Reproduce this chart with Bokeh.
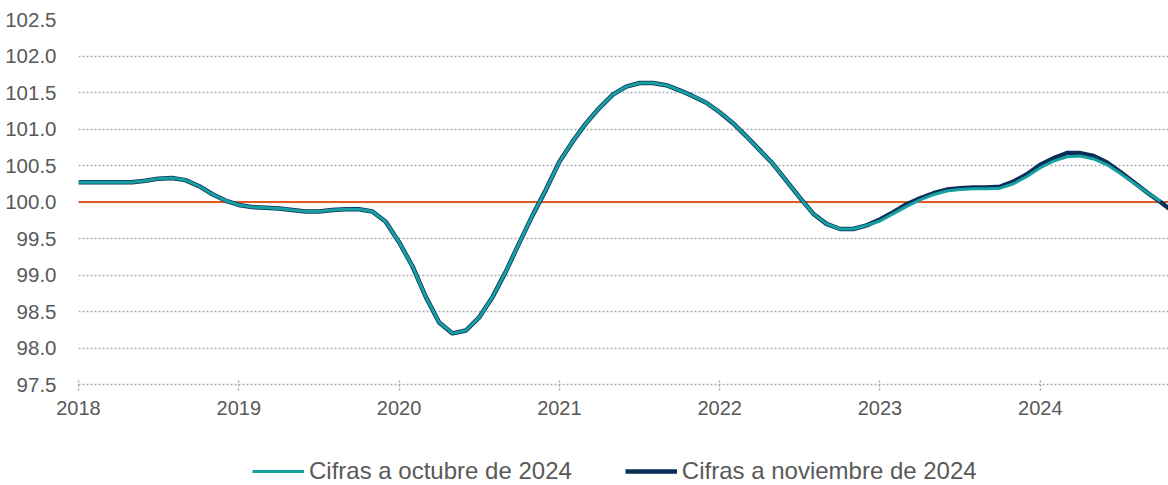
from bokeh.plotting import figure
from bokeh.layouts import column
from bokeh.models import Range1d, FixedTicker, Legend, LegendItem, Span, NumeralTickFormatter
from bokeh.embed import file_html
from bokeh.resources import INLINE

# ---- data (monthly, starting January 2018) ----
years = [2018, 2019, 2020, 2021, 2022, 2023, 2024]
y_ticks = [97.5, 98.0, 98.5, 99.0, 99.5, 100.0, 100.5, 101.0, 101.5, 102.0, 102.5]
base_level = 100.0

common_2018_2022 = [
    100.27, 100.27, 100.27, 100.27, 100.27, 100.29, 100.32, 100.33, 100.30, 100.22, 100.11, 100.02,
    99.96, 99.93, 99.92, 99.91, 99.89, 99.87, 99.87, 99.89, 99.90, 99.90, 99.87, 99.73,
    99.45, 99.12, 98.70, 98.35, 98.20, 98.24, 98.42, 98.70, 99.05, 99.44, 99.82, 100.17,
    100.55, 100.83, 101.08, 101.29, 101.47, 101.58, 101.63, 101.63, 101.60, 101.53, 101.45, 101.36,
    101.23, 101.08, 100.90, 100.71, 100.52, 100.29, 100.06, 99.84, 99.70, 99.63, 99.63, 99.68,
]
oct_2023_2024 = [
    99.74, 99.84, 99.94, 100.03, 100.10, 100.15, 100.17, 100.18, 100.18, 100.19, 100.25, 100.35,
    100.47, 100.56, 100.62, 100.63, 100.59, 100.51, 100.39, 100.26, 100.13, 100.01,
]
nov_2023_2024 = [
    99.76, 99.86, 99.97, 100.05, 100.12, 100.17, 100.19, 100.20, 100.20, 100.21, 100.28, 100.38,
    100.51, 100.60, 100.67, 100.67, 100.63, 100.54, 100.41, 100.27, 100.13, 100.00, 99.86,
]
serie_octubre = common_2018_2022 + oct_2023_2024
serie_noviembre = common_2018_2022 + nov_2023_2024
label_oct = "Cifras a octubre de 2024"
label_nov = "Cifras a noviembre de 2024"

x_oct = list(range(len(serie_octubre)))
x_nov = list(range(len(serie_noviembre)))

TEAL = "#17A0A2"
NAVY = "#0A2E57"
GRID = "#A3ABB3"
TXT = "#595959"
FONT = "Liberation Sans"

p = figure(width=1168, height=435, output_backend="svg", toolbar_location=None,
           x_range=Range1d(0, 81.6), y_range=Range1d(97.5, 102.5))
p.min_border_left = 78
p.min_border_right = 0
p.min_border_top = 19
p.min_border_bottom = 51
p.outline_line_color = None
p.background_fill_color = "white"

# grid
p.xgrid.grid_line_color = None
p.ygrid.ticker = FixedTicker(ticks=y_ticks)
p.ygrid.grid_line_color = GRID
p.ygrid.grid_line_dash = "2 2"
p.ygrid.grid_line_width = 1.5

# y axis
p.yaxis.ticker = FixedTicker(ticks=y_ticks)
p.yaxis.formatter = NumeralTickFormatter(format="0.0")
p.yaxis.axis_line_color = None
p.yaxis.major_tick_line_color = None
p.yaxis.minor_tick_line_color = None
p.yaxis.major_label_standoff = 16
p.yaxis.major_label_text_font = FONT
p.yaxis.major_label_text_font_size = "20.5px"
p.yaxis.major_label_text_color = TXT

# x axis
p.xaxis.ticker = FixedTicker(ticks=[12 * i for i in range(len(years))])
p.xaxis.major_label_overrides = {12 * i: str(y) for i, y in enumerate(years)}
p.xaxis.axis_line_color = GRID
p.xaxis.axis_line_dash = "2 2"
p.xaxis.axis_line_width = 1.5
p.xaxis.major_tick_line_color = GRID
p.xaxis.major_tick_line_dash = "2 2"
p.xaxis.major_tick_line_width = 1.5
p.xaxis.major_tick_in = 4
p.xaxis.major_tick_out = 6
p.xaxis.minor_tick_line_color = None
p.xaxis.major_label_standoff = 10
p.xaxis.major_label_text_font = FONT
p.xaxis.major_label_text_font_size = "20px"
p.xaxis.major_label_text_color = TXT

# reference line at 100
span = Span(location=base_level, dimension="width", line_color="#E2581F", line_width=2.2, level="underlay")
p.add_layout(span)

r_nov = p.line(x_nov, serie_noviembre, line_color=NAVY, line_width=4.5)
r_oct = p.line(x_oct, serie_octubre, line_color=TEAL, line_width=3)

# ---- legend strip below the chart (lines fall outside this strip's range: only the legend shows) ----
q = figure(width=1168, height=50, output_backend="svg", toolbar_location=None,
           x_axis_type=None, y_axis_type=None, x_range=Range1d(0, 1), y_range=Range1d(0, 1))
q.min_border = 0
q.outline_line_color = None
q.xgrid.grid_line_color = None
q.ygrid.grid_line_color = None
l_oct = q.line(x_oct, serie_octubre, line_color=TEAL, line_width=3)
l_nov = q.line(x_nov, serie_noviembre, line_color=NAVY, line_width=4.5)

legend = Legend(items=[LegendItem(label=label_oct, renderers=[l_oct]),
                       LegendItem(label=label_nov, renderers=[l_nov])],
                orientation="horizontal", location=(174, 0))
legend.border_line_color = None
legend.background_fill_alpha = 0
legend.padding = 0
legend.margin = 0
legend.spacing = 53
legend.glyph_width = 52
legend.glyph_height = 20
legend.label_standoff = 5
legend.label_text_font = FONT
legend.label_text_font_size = "24px"
legend.label_text_color = TXT
q.add_layout(legend, "center")

open("out.html", "w").write(file_html(column(p, q, spacing=0), INLINE))
